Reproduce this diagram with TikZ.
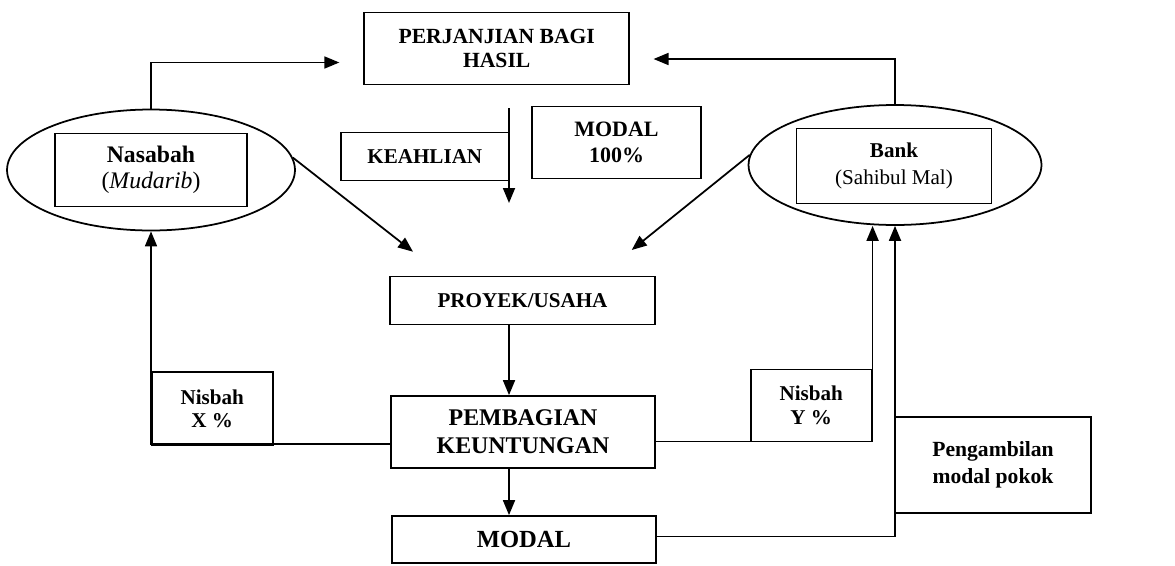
\documentclass[tikz,border=0pt]{standalone}
\usepackage{fontspec}
\setmainfont{Liberation Serif}
\usetikzlibrary{shapes.geometric,arrows.meta}
\begin{document}
\begin{tikzpicture}[x=0.02cm, y=-0.02cm, line width=1pt,
  every node/.style={inner sep=0pt, align=center},
  box/.style={draw, rectangle, font=\bfseries\fontsize{12}{13.5}\selectfont},
  oval/.style={draw, ellipse},
  arr/.style={-{Triangle[length=0.3cm, width=0.24cm]}}]
\useasboundingbox (0,0) rectangle (1175,565);

% top
\node[box, minimum width=5.3cm, minimum height=1.44cm, font=\bfseries\fontsize{12.3}{13.5}\selectfont] (perj) at (496.7,48.5) {PERJANJIAN BAGI\\HASIL};
\node[box, minimum width=3.36cm, minimum height=0.96cm] (keahlian) at (424.8,156.5) {KEAHLIAN};
\node[box, minimum width=3.38cm, minimum height=1.44cm, font=\bfseries\fontsize{12.5}{15}\selectfont] (modal100) at (616.5,142.5) {MODAL\\100\%};

% parties
\node[oval, minimum width=5.76cm, minimum height=2.42cm] (nas) at (151,170) {};
\node[box, minimum width=3.84cm, minimum height=1.46cm, font=\fontsize{13.5}{15}\selectfont] (nasbox) at (151,170) {\textbf{Nasabah}\\(\textit{Mudarib})};
\node[oval, minimum width=5.86cm, minimum height=2.4cm] (bank) at (895,165) {};
\node[box, minimum width=3.9cm, minimum height=1.5cm, font=\fontsize{12}{15}\selectfont] (bankbox) at (894,166) {\textbf{Bank}\\(Sahibul Mal)};

% middle column
\node[box, minimum width=5.3cm, minimum height=0.96cm] (proyek) at (522.5,300.5) {PROYEK/USAHA};
\node[box, minimum width=5.28cm, minimum height=1.44cm, font=\bfseries\fontsize{13.6}{16}\selectfont] (bagi) at (523,432) {PEMBAGIAN\\KEUNTUNGAN};
\node[box, minimum width=5.28cm, minimum height=0.94cm, font=\bfseries\fontsize{14}{16}\selectfont] (modal) at (524,539.5) {MODAL};

% shares
\node[box, minimum width=2.42cm, minimum height=1.46cm] (nisx) at (212.2,408.7) {Nisbah\\X \%};
\node[box, minimum width=2.42cm, minimum height=1.44cm] (nisy) at (811.2,405.5) {Nisbah\\Y \%};
\node[box, minimum width=3.92cm, minimum height=1.92cm, font=\bfseries\fontsize{12.3}{15}\selectfont] (ambil) at (993,464.7) {Pengambilan\\modal pokok};

\coordinate (kt) at (509,108);
\coordinate (kb) at (509,203);
\coordinate (pin) at (413,251.7);
\coordinate (bin) at (631.7,250);

\draw[arr, shorten >=0.48cm] (nas.north) |- ([yshift=-0.28cm]perj.west);
\draw[arr, shorten >=0.47cm] (bank.north) |- ([yshift=-0.21cm]perj.east);
\draw[arr] (kt) -- (kb);
\draw[arr] (nas.5) -- (pin);
\draw[arr] (bank.176) -- (bin);

\foreach \from/\to in {proyek/bagi,bagi/modal}
  \draw[arr] (\from.south -| kb) -- (\to.north -| kb);

\draw[arr] ([yshift=-0.24cm]bagi.west) -| (nas.south);
\draw[arr] ([yshift=-0.19cm]bagi.east) -| (bank.south -| nisy.east);
\draw[arr] ([yshift=0.06cm]modal.east) -| (bank.south);
\end{tikzpicture}
\end{document}
